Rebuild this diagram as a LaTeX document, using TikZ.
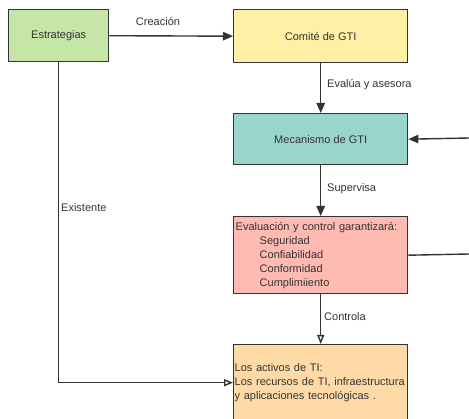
\documentclass[tikz,border=0pt]{standalone}
\usepackage{fontspec}
\setmainfont{Liberation Sans}
\usetikzlibrary{arrows.meta}
\definecolor{ink}{HTML}{333333}
\definecolor{cgreen}{HTML}{C5E6A6}
\definecolor{cyellow}{HTML}{FFF0A6}
\definecolor{cteal}{HTML}{9AD5CB}
\definecolor{cpink}{HTML}{FFBAB2}
\definecolor{corange}{HTML}{FFDAA6}
\begin{document}
\begin{tikzpicture}[x=1pt,y=-1pt,
  every node/.style={font=\fontsize{11}{14}\selectfont, text=ink},
  box/.style={draw=ink, line width=1.4pt, inner sep=0pt, anchor=north west},
  lbl/.style={anchor=west, inner sep=0pt},
  conn/.style={draw=ink, line width=1.4pt},
  solidtip/.style={-{Triangle[length=10pt,width=8.5pt]}},
  opentip/.style={-{Triangle[open,length=9pt,width=7pt]}}]
\useasboundingbox (0,0) rectangle (469,419);
\clip (0,0) rectangle (469,419);

% boxes
\node[box, fill=cgreen, minimum width=100pt, minimum height=52pt] (est) at (8,9) {Estrategias};
\node[box, fill=cyellow, minimum width=174pt, minimum height=53pt] (com) at (233,9) {Comité de GTI};
\node[box, fill=cteal, minimum width=174pt, minimum height=51pt] (mec) at (233,113) {Mecanismo de GTI};
\node[box, fill=cpink, minimum width=174pt, minimum height=77pt, text width=170pt,
      inner xsep=2pt, align=left] (eva) at (233,216)
  {Evaluación y control garantizará:\\
   \hspace*{24pt}Seguridad\\
   \hspace*{24pt}Confiabilidad\\
   \hspace*{24pt}Conformidad\\
   \hspace*{24pt}Cumplimiiento};
\node[box, fill=corange, minimum width=174pt, minimum height=76pt, text width=172pt,
      inner xsep=1pt, align=left] (act) at (233,344)
  {Los activos de TI:\\
   Los recursos de TI, infraestructura\\
   y aplicaciones tecnológicas .};

% free ends on the right border
\coordinate (inR) at (469,138);
\coordinate (outR) at (469,254);

% connectors
\draw[conn, solidtip] (est.east) -- (com.west);
\draw[conn, solidtip] (com.south) -- (mec.north);
\draw[conn, solidtip] (mec.south) -- (eva.north);
\draw[conn, opentip] (eva.south) -- (act.north);
\draw[conn, opentip] (est.south) |- (act.west);
\draw[conn, solidtip] (inR) -- (mec.east);
\draw[conn] (eva.east) -- (outR);

% connector labels
\node[inner sep=0pt] (lcre) at (158,22) {Creación};
\node[lbl] (leva) at (327,85) {Evalúa y asesora};
\node[lbl] (lsup) at (327,189) {Supervisa};
\node[lbl] (lcon) at (324,317) {Controla};
\node[lbl] (lexi) at (61,208) {Existente};
\end{tikzpicture}
\end{document}
